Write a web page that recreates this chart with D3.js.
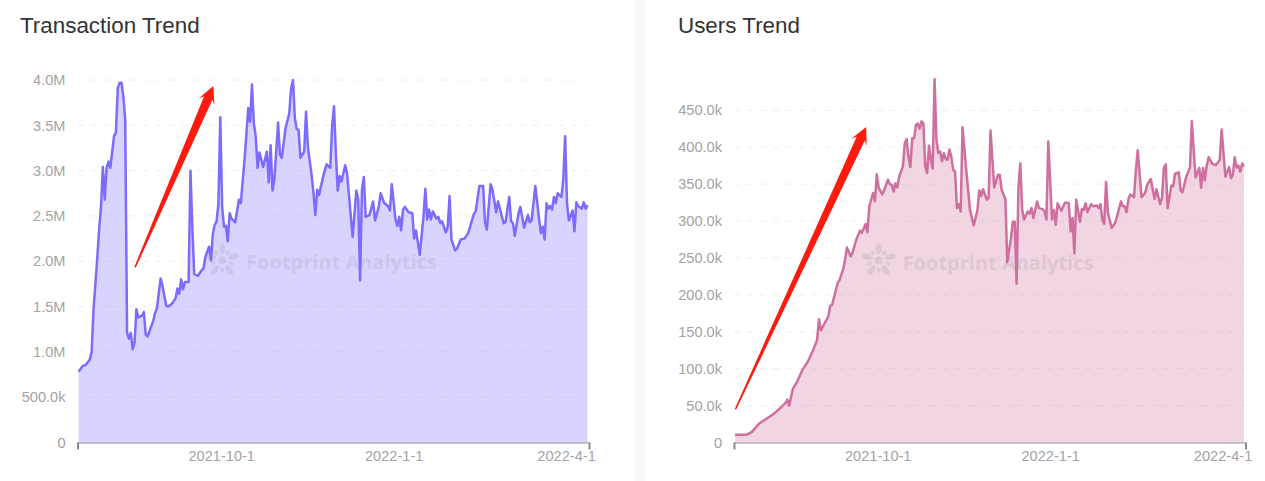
<!DOCTYPE html>
<html>
<head>
<meta charset="utf-8">
<script src="https://cdn.jsdelivr.net/npm/d3@7"></script>
<style>
  body { margin: 0; background: #fff; overflow: hidden; }
  svg { display: block; }
</style>
</head>
<body>
<script>
// day number counted from the first point of the series, value in millions
const txDays = [0,2,4,6,7,8,10,11,12,13,14,15,16,17,19,20,21,22,23,24,25,26,27,28,29,30,31,32,34,35,36,37,39,40,41,42,44,45,47,48,
  50,52,53,54,55,56,57,59,60,61,62,64,66,67,68,70,71,72,73,74,75,76,77,78,79,80,81,82,84,86,87,89,91,92,93,94,95,96,97,99,
  101,102,103,104,105,107,108,109,111,113,114,115,116,117,118,119,121,122,123,125,126,127,128,129,131,132,133,135,136,137,138,139,140,141,143,144,147,149,150,151,
  152,153,154,156,158,159,161,162,164,166,167,168,170,171,172,173,174,175,177,179,180,181,183,185,186,187,188,189,190,192,193,194,195,197,198,199,200,202,203,205,
  207,209,212,213,215,217,218,219,221,222,224,225,226,228,229,231,232,233,234,236,237,239,241,242,243,245,247,248,249,250,251,252,253,254,255,256,257,259,260,261,
  262,263,265,266,267,268,270,271,272,273]
const txValues = [.78,.84,.86,.915,1.0,1.47,2.03,2.35,2.6,3.04,2.68,3.03,3.1,3.03,3.38,3.42,3.91,3.97,3.97,3.82,3.56,1.21,1.145,1.21,1.03,1.1,1.47,1.38,1.4,1.44,1.19,1.17,1.285,1.34,1.43,1.48,1.81,1.73,1.51,1.5,
  1.53,1.59,1.7,1.64,1.8,1.69,1.77,1.77,3.0,2.38,1.86,1.84,1.9,1.92,2.05,2.16,2.01,2.3,2.4,2.44,2.64,3.59,2.6,2.38,2.39,2.22,2.53,2.47,2.43,2.68,2.64,3.12,3.69,3.54,3.95,3.52,3.38,3.03,3.2,3.04,
  3.21,2.87,3.28,2.78,2.9,3.53,3.18,3.14,3.47,3.63,3.91,4.0,3.58,3.46,3.45,3.14,3.21,3.65,3.26,2.95,2.75,2.51,2.79,2.73,2.92,3.0,3.07,3.03,3.49,3.71,3.19,2.78,2.94,2.88,3.06,2.97,2.27,2.78,2.68,1.79,
  2.79,2.93,2.49,2.51,2.66,2.45,2.6,2.75,2.64,2.61,2.56,2.85,2.46,2.39,2.49,2.34,2.57,2.6,2.54,2.53,2.25,2.34,2.07,2.49,2.8,2.46,2.57,2.46,2.55,2.47,2.49,2.42,2.44,2.32,2.38,2.72,2.24,2.12,2.14,2.24,
  2.25,2.31,2.52,2.55,2.83,2.83,2.43,2.35,2.85,2.79,2.54,2.66,2.58,2.42,2.43,2.71,2.44,2.42,2.28,2.53,2.6,2.37,2.51,2.43,2.45,2.83,2.47,2.31,2.38,2.24,2.64,2.58,2.61,2.57,2.71,2.64,2.75,2.71,2.9,3.38,
  2.64,2.45,2.56,2.33,2.65,2.61,2.58,2.65,2.58,2.62]

// day number as above, value in thousands
const userDays = [0,6,9,13,17,21,25,27,28,29,31,33,36,39,42,44,45,46,48,50,51,52,55,56,58,59,60,62,63,65,67,68,70,71,72,74,75,76,77,79,
  80,82,83,84,85,86,87,88,90,91,92,93,94,95,96,97,98,99,100,101,102,103,104,105,106,107,108,109,110,111,112,113,114,115,116,117,118,119,120,121,
  122,124,126,128,130,131,132,133,135,136,137,139,141,142,143,145,146,148,149,150,151,152,153,154,155,157,158,159,160,161,162,163,165,166,167,168,170,171,172,173,
  175,177,179,180,181,182,183,185,186,187,188,189,191,192,194,195,196,197,198,199,200,202,204,207,208,209,210,211,212,214,215,216,218,220,221,223,225,226,228,229,
  230,231,232,234,235,236,238,239,240,242,244,245,247,249,250,251,252,253,254,256,258,260,261,263,265,266,267,268,269,270,271,272,273]
const userValues = [10.4,10.4,14.5,25.8,32.6,39.4,48.4,53.8,58,50,73,81,98,109.5,126,139,167,152,161.5,170.6,185,186,216,220,235,248,264,252,257,275,287,284,296,285,320,338,327,363.5,345,336,
  342,356,350,349,340,351,345.5,360,374,405,411,387,373,412,412,430,432,425,435,432,374,365,402,383,371,492,410,392,394,381,392,384,383,397,387,369,367,317.5,323,313,
  427,369,315,294,315,341.5,334,343,329,331,422.5,345.5,362.6,362,342,330,244,277,299,299,215,347,378,315,302,313,310,317.5,304,315,326.6,317.5,316,313,302,407.6,302,315,295,324,
  314,325,324,286,304,256,329,299,316,315,324,312,323,320,321,317.5,323,302,296.5,353,311,290.5,298,326.6,320,320,312,330,336,332.5,369,396,332.5,338,349,357,330,343,323,331,
  372,377,317.5,348,347,364,366,341.5,339,360,372,435,359,372,345,372,355,375,386.5,377.5,376,383,424,360,373,358,362.6,386.5,372.5,375,367,378,374]

const dateTicks = [76.5, 169, 261.5]
const dateLabels = ['2021-10-1', '2022-1-1', '2022-4-1']

const txTicks = [0, .5, 1, 1.5, 2, 2.5, 3, 3.5, 4]
const txLabels = ['0', '500.0k', '1.0M', '1.5M', '2.0M', '2.5M', '3.0M', '3.5M', '4.0M']
const userTicks = [0, 50, 100, 150, 200, 250, 300, 350, 400, 450]
const userLabels = ['0', '50.0k', '100.0k', '150.0k', '200.0k', '250.0k', '300.0k', '350.0k', '400.0k', '450.0k']

// arrow ends in the same units as the series: [day, value]
const txArrow = [[30.3, 1.934], [72.3, 3.934]]
const userArrow = [[0.2, 45], [70.3, 427.5]]

let m = { width: 1265, height: 481 }
const textFont = '"Liberation Sans", Arial, sans-serif'

let svg = d3.select('body')
  .append('svg')
  .attr('width', m.width)
  .attr('height', m.height)

// band between the two cards
svg.append('rect')
  .attr('x', 635).attr('y', 0)
  .attr('width', 10).attr('height', m.height)
  .attr('fill', '#f8f8fa')

function drawPanel(o) {
  let g = svg.append('g')

  g.append('text')
    .attr('x', o.titleX).attr('y', 33)
    .attr('font-family', textFont)
    .attr('font-size', 22.4)
    .attr('fill', '#333')
    .text(o.title)

  let xScale = d3.scaleLinear().domain([-0.6, 273.8]).range(o.xRange)
  let yScale = d3.scaleLinear().domain(o.yDomain).range(o.yRange)

  // dashed grid goes under the see-through area
  g.append('g').selectAll('line')
    .data(o.yTicks.slice(1))
    .enter()
    .append('line')
      .attr('x1', o.xRange[0])
      .attr('x2', o.xRange[1] - 1)
      .attr('y1', d => yScale(d))
      .attr('y2', d => yScale(d))
      .attr('stroke', '#eeeeee')
      .attr('stroke-dasharray', '6,7')

  let points = d3.zip(o.days, o.values)

  let area = d3.area()
    .x(d => xScale(d[0]))
    .y0(yScale(0))
    .y1(d => yScale(d[1]))

  let line = d3.line()
    .x(d => xScale(d[0]))
    .y(d => yScale(d[1]))

  g.append('path')
    .attr('d', area(points))
    .attr('fill', o.color)
    .attr('fill-opacity', 0.29)

  g.append('path')
    .attr('d', line(points))
    .attr('fill', 'none')
    .attr('stroke', o.color)
    .attr('stroke-width', 2.5)
    .attr('stroke-linejoin', 'round')

  // watermark
  let mark = g.append('g').attr('opacity', 0.17)
  let cx = xScale(o.markDay), cy = yScale(o.markValue)
  mark.append('circle').attr('cx', cx).attr('cy', cy).attr('r', 4).attr('fill', '#888')
  d3.range(10).forEach(function(i) {
    let a = i * 36
    let big = i % 2 == 0
    mark.append('ellipse')
      .attr('transform', 'translate(' + cx + ',' + cy + ') rotate(' + a + ') translate(0,-' + (big ? 12 : 9.5) + ')')
      .attr('rx', big ? 3 : 2)
      .attr('ry', big ? 5.5 : 2.5)
      .attr('fill', '#888')
  })
  mark.append('text')
    .attr('x', cx + 24).attr('y', cy + 9)
    .attr('font-family', '"Open Sans", sans-serif')
    .attr('font-weight', 700)
    .attr('font-size', 20)
    .attr('fill', '#888')
    .text('Footprint Analytics')

  // bottom axis: labels only, then the end ticks
  let xAxis = d3.axisBottom(xScale)
    .tickValues(dateTicks)
    .tickFormat((d, i) => dateLabels[i])
    .tickSize(0)
    .tickPadding(8)

  let xg = g.append('g')
    .attr('transform', 'translate(0,' + yScale(0) + ')')
    .call(xAxis)
  xg.select('.domain').attr('stroke', '#8c8c98')
  xg.selectAll('text')
    .attr('font-family', textFont)
    .attr('font-size', 14.6)
    .attr('fill', '#a3a3a3')

  let endTicks = d3.axisBottom(xScale)
    .tickValues(xScale.domain())
    .tickFormat('')
    .tickSize(7)
    .tickSizeOuter(0)
  let eg = g.append('g')
    .attr('transform', 'translate(0,' + yScale(0) + ')')
    .call(endTicks)
  eg.select('.domain').remove()
  eg.selectAll('line').attr('stroke', '#8a8a8a').attr('stroke-width', 2)

  let yAxis = d3.axisLeft(yScale)
    .tickValues(o.yTicks)
    .tickFormat((d, i) => o.yLabels[i])
    .tickSize(0)
    .tickPadding(o.yPad)

  let yg = g.append('g')
    .attr('transform', 'translate(' + xScale.range()[0] + ',0)')
    .call(yAxis)
  yg.select('.domain').remove()
  yg.selectAll('text')
    .attr('font-family', textFont)
    .attr('font-size', 14.6)
    .attr('fill', '#a3a3a3')

  // hand-drawn looking red arrow: thin tail, wide neck, flared head
  let tail = [xScale(o.arrow[0][0]), yScale(o.arrow[0][1])]
  let tip = [xScale(o.arrow[1][0]), yScale(o.arrow[1][1])]
  let len = Math.hypot(tip[0] - tail[0], tip[1] - tail[1])
  let ux = (tip[0] - tail[0]) / len, uy = (tip[1] - tail[1]) / len
  let at = (back, side) => [tip[0] - ux * back - uy * side, tip[1] - uy * back + ux * side]
  g.append('path')
    .attr('d', d3.line()([at(len, -0.8), at(13, -4.5), at(17, -8.5), tip, at(17, 8.5), at(13, 4.5), at(len, 0.8)]) + 'Z')
    .attr('fill', '#ff1a0d')
}

drawPanel({
  title: 'Transaction Trend', titleX: 20,
  days: txDays, values: txValues, color: '#7b6cff',
  xRange: [77.5, 589], yRange: [442.5, 80], yDomain: [0, 4],
  yTicks: txTicks, yLabels: txLabels, yPad: 12,
  arrow: txArrow, markDay: 77, markValue: 2.01
})

drawPanel({
  title: 'Users Trend', titleX: 678,
  days: userDays, values: userValues, color: '#cf6f9e',
  xRange: [734, 1245.5], yRange: [442.5, 110.3], yDomain: [0, 450],
  yTicks: userTicks, yLabels: userLabels, yPad: 12,
  arrow: userArrow, markDay: 77, markValue: 246.5
})
</script>
</body>
</html>
